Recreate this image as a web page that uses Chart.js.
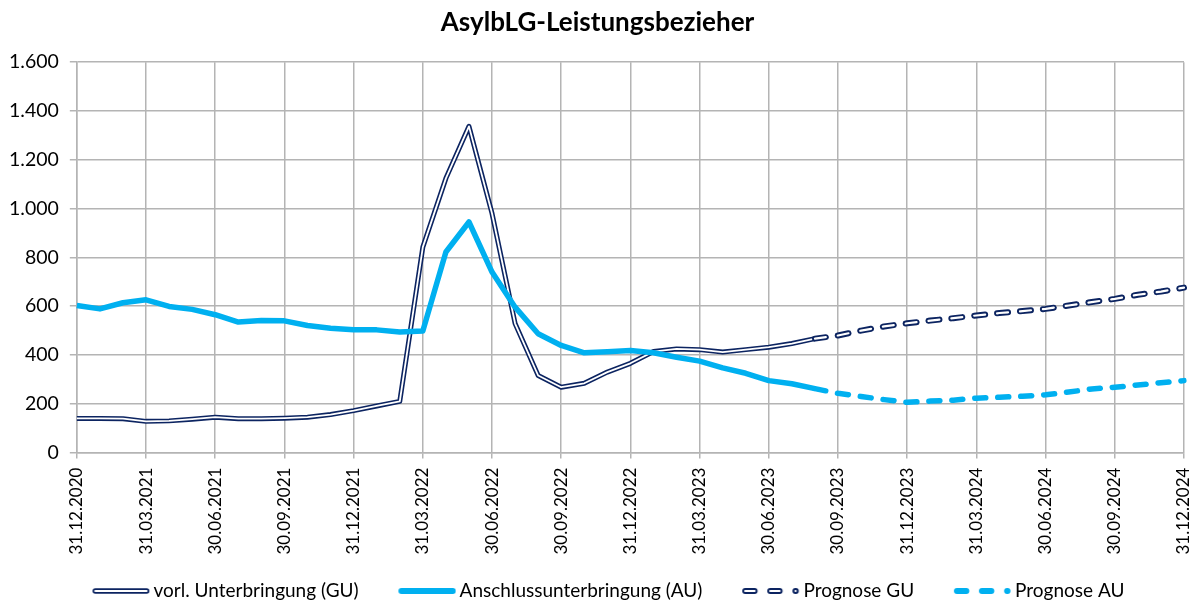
<!DOCTYPE html>
<html>
<head>
<meta charset="utf-8">
<script src="https://cdn.jsdelivr.net/npm/chart.js@4.4.1/dist/chart.umd.min.js"></script>
<style>
  body { margin: 0; background: #fff; }
  canvas { display: block; }
</style>
</head>
<body>
<canvas id="grafik" width="1199" height="602"></canvas>
<script>
// Monatsenden 31.12.2020 - 31.12.2024
const monate = [
  '31.12.2020','31.01.2021','28.02.2021','31.03.2021','30.04.2021','31.05.2021','30.06.2021',
  '31.07.2021','31.08.2021','30.09.2021','31.10.2021','30.11.2021','31.12.2021',
  '31.01.2022','28.02.2022','31.03.2022','30.04.2022','31.05.2022','30.06.2022',
  '31.07.2022','31.08.2022','30.09.2022','31.10.2022','30.11.2022','31.12.2022',
  '31.01.2023','28.02.2023','31.03.2023','30.04.2023','31.05.2023','30.06.2023',
  '31.07.2023','31.08.2023','30.09.2023','31.10.2023','30.11.2023','31.12.2023',
  '31.01.2024','29.02.2024','31.03.2024','30.04.2024','31.05.2024','30.06.2024',
  '31.07.2024','31.08.2024','30.09.2024','31.10.2024','30.11.2024','31.12.2024'
];

const guWerte = [140,140,139,128,130,137,145,139,139,141,145,156,172,191,210,842,1124,1337,980,529,316,268,284,330,366,414,425,422,412,422,432,447,467];
const auWerte = [603,589,614,626,599,587,565,535,541,540,521,510,503,503,494,498,822,945,740,596,487,439,409,413,418,409,391,375,347,325,295,282,262];
// Prognose ab 31.08.2023
const prognoseGU = [467,480,500,517,530,541,551,562,572,580,589,603,617,630,647,660,676];
const prognoseAU = [262,243,230,217,206,211,215,223,227,231,237,248,261,268,277,286,295];

const yTicks = [0,200,400,600,800,1000,1200,1400,1600];

const navy = '#0c2461';
const hellblau = '#00b0f0';
const schrift = 'Lato, "Open Sans", sans-serif';

const leer = Array(guWerte.length - 1).fill(null);
const progGU = leer.concat(prognoseGU);
const progAU = leer.concat(prognoseAU);

// kleine Legendenmuster (links freier Platz als Abstand zum vorigen Eintrag)
function muster(typ) {
  const c = document.createElement('canvas');
  c.width = 86; c.height = 12;
  const g = c.getContext('2d');
  g.lineCap = 'round';
  const o = 28.25;
  function strich(x1, x2, farbe, breite) {
    g.strokeStyle = farbe; g.lineWidth = breite;
    g.beginPath(); g.moveTo(o + x1, 6); g.lineTo(o + x2, 6); g.stroke();
  }
  if (typ == 'gu') { strich(2.8, 54.2, navy, 5.5); strich(2.8, 54.2, '#fff', 2); }
  if (typ == 'au') { strich(2.8, 54.2, hellblau, 6); }
  if (typ == 'pgu') {
    [[2.8,12.2],[27.8,37.2]].forEach(s => { strich(s[0], s[1], navy, 6); strich(s[0], s[1], '#fff', 2.2); });
    strich(53, 53.4, navy, 6); strich(53, 53.4, '#fff', 1.8);
  }
  if (typ == 'pau') {
    [[2.8,12.2],[27.8,37.2]].forEach(s => strich(s[0], s[1], hellblau, 6));
    strich(53, 53.4, hellblau, 6);
  }
  return c;
}

const legende = [
  { text: 'vorl. Unterbringung (GU)', stil: muster('gu') },
  { text: 'Anschlussunterbringung (AU)', stil: muster('au') },
  { text: 'Prognose GU', stil: muster('pgu') },
  { text: 'Prognose AU', stil: muster('pau') }
];

const ctx = document.getElementById('grafik').getContext('2d');

const grafik = new Chart(ctx, {
  type: 'line',
  data: {
    labels: monate,
    datasets: [
      { label: 'vorl. Unterbringung (GU)', data: guWerte, borderColor: navy, borderWidth: 5, order: 5 },
      { label: 'gu-innen', data: guWerte, borderColor: '#fff', borderWidth: 1.8, order: 4 },
      { label: 'Anschlussunterbringung (AU)', data: auWerte, borderColor: hellblau, borderWidth: 5.5, order: 1 },
      { label: 'Prognose GU', data: progGU, borderColor: navy, borderWidth: 6, borderDash: [11, 12], borderCapStyle: 'round', order: 3 },
      { label: 'pgu-innen', data: progGU, borderColor: '#fff', borderWidth: 2.2, borderDash: [11, 12], borderCapStyle: 'round', order: 2 },
      { label: 'Prognose AU', data: progAU, borderColor: hellblau, borderWidth: 5.5, borderDash: [11, 12], borderCapStyle: 'round', order: 0 }
    ]
  },
  options: {
    responsive: false,
    animation: false,
    spanGaps: false,
    elements: {
      point: { radius: 0 },
      line: { tension: 0, borderJoinStyle: 'round' }
    },
    layout: { padding: { left: -2, right: 2, top: 4, bottom: -8.5 } },
    plugins: {
      title: {
        display: true,
        text: 'AsylbLG-Leistungsbezieher',
        color: '#000',
        font: { family: schrift, size: 26, weight: 'bold' },
        padding: { top: 3, bottom: 24 }
      },
      legend: {
        position: 'bottom',
        labels: {
          usePointStyle: true,
          pointStyleWidth: 73.5,
          padding: 18,
          color: '#000',
          font: { family: schrift, size: 19 },
          generateLabels: () => legende.map((l, i) => ({
            text: l.text, pointStyle: l.stil, datasetIndex: i, fontColor: '#000',
            lineWidth: 0, strokeStyle: 'transparent', fillStyle: 'transparent'
          }))
        }
      },
      tooltip: { enabled: false }
    },
    scales: {
      x: {
        afterFit: a => { a.paddingLeft = 0; a.paddingRight = 15; },
        grid: {
          color: c => (c.index % 3 === 0 ? '#b4b4b4' : 'transparent'),
          lineWidth: 1.5,
          tickLength: 6
        },
        border: { color: '#b4b4b4', width: 1.5 },
        ticks: {
          autoSkip: false,
          maxRotation: 90,
          minRotation: 90,
          padding: 9,
          color: '#000',
          font: { family: schrift, size: 17 },
          callback: (v, i) => (i % 3 === 0 ? monate[i] : '')
        }
      },
      y: {
        min: 0,
        max: 1600,
        afterBuildTicks: a => { a.ticks = yTicks.map(v => ({ value: v })); },
        grid: { color: '#b4b4b4', lineWidth: 1.5, tickLength: 7 },
        border: { color: '#b4b4b4', width: 1.5 },
        ticks: {
          color: '#000',
          padding: 11,
          font: { family: schrift, size: 19.5 },
          callback: v => v.toLocaleString('de-DE')
        }
      }
    }
  }
});
</script>
</body>
</html>
